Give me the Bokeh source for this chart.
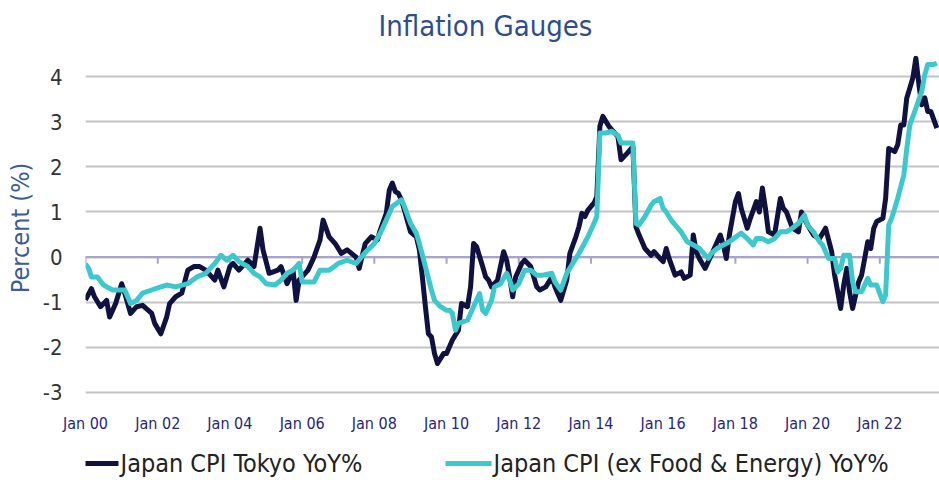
import pandas as pd
from bokeh.plotting import figure
from bokeh.layouts import column
from bokeh.models import FixedTicker, Span, Range1d
from bokeh.core.properties import value
from bokeh.embed import file_html
from bokeh.resources import INLINE

# ---------------- data ----------------
tokyo_dates = [
    "2000-01", "2000-03", "2000-04", "2000-06", "2000-08", "2000-09", "2000-11",
    "2001-01", "2001-02", "2001-04", "2001-06", "2001-08", "2001-11", "2001-12",
    "2002-02", "2002-04", "2002-05", "2002-07", "2002-09", "2002-11",
    "2003-01", "2003-03", "2003-05", "2003-08", "2003-09", "2003-11",
    "2004-01", "2004-02", "2004-04", "2004-07", "2004-09", "2004-11", "2004-12",
    "2005-02", "2005-05", "2005-06", "2005-08", "2005-10", "2005-11", "2005-12",
    "2006-03", "2006-05", "2006-07", "2006-08", "2006-10", "2006-12",
    "2007-02", "2007-04", "2007-07", "2007-08", "2007-10", "2007-12",
    "2008-02", "2008-03", "2008-05", "2008-06", "2008-07", "2008-08", "2008-09", "2008-10", "2008-11",
    "2009-01", "2009-03", "2009-04", "2009-05", "2009-06", "2009-07", "2009-08", "2009-09", "2009-10", "2009-12",
    "2010-01", "2010-03", "2010-05", "2010-06", "2010-08", "2010-09", "2010-10", "2010-11",
    "2011-01", "2011-02", "2011-03", "2011-04", "2011-06", "2011-08", "2011-09", "2011-10", "2011-11", "2011-12",
    "2012-02", "2012-03", "2012-05", "2012-07", "2012-08", "2012-10", "2012-12",
    "2013-01", "2013-03", "2013-05", "2013-06", "2013-08", "2013-09", "2013-10", "2013-11", "2013-12",
    "2014-02", "2014-03", "2014-04", "2014-05", "2014-07", "2014-08", "2014-10", "2014-11",
    "2015-01", "2015-03", "2015-04", "2015-05", "2015-07", "2015-09", "2015-10", "2015-12",
    "2016-01", "2016-02", "2016-03", "2016-05", "2016-07", "2016-08", "2016-10", "2016-11", "2016-12",
    "2017-01", "2017-03", "2017-05", "2017-06", "2017-08", "2017-09", "2017-10", "2017-11",
    "2018-01", "2018-02", "2018-03", "2018-05", "2018-06", "2018-08", "2018-09", "2018-10", "2018-11", "2018-12",
    "2019-02", "2019-04", "2019-05", "2019-06", "2019-08", "2019-10", "2019-11",
    "2020-01", "2020-03", "2020-05", "2020-07", "2020-09", "2020-10", "2020-11", "2020-12",
    "2021-01", "2021-02", "2021-03", "2021-04", "2021-06", "2021-07", "2021-09", "2021-10", "2021-11", "2021-12",
    "2022-02", "2022-03", "2022-04", "2022-06", "2022-07", "2022-08", "2022-09", "2022-10", "2022-11", "2022-12",
    "2023-01", "2023-02", "2023-03", "2023-04", "2023-05", "2023-06", "2023-08",
]
tokyo_vals = [
    -0.95, -0.70, -0.88, -1.10, -0.96, -1.33, -1.03,
    -0.59, -0.80, -1.25, -1.10, -1.07, -1.25, -1.47,
    -1.70, -1.33, -1.03, -0.88, -0.80, -0.29,
    -0.21, -0.21, -0.29, -0.51, -0.29, -0.66,
    -0.21, -0.14, -0.29, -0.07, -0.21, 0.64, 0.16,
    -0.36, -0.29, -0.21, -0.59, -0.29, -0.96, -0.51,
    -0.29, 0.00, 0.38, 0.82, 0.45, 0.30,
    0.08, 0.16, 0.00, -0.25, 0.30, 0.45,
    0.38, 0.60, 0.97, 1.49, 1.64, 1.45, 1.41, 1.27, 1.04,
    0.56, 0.45, 0.16, -0.44, -1.10, -1.70, -1.77, -2.14, -2.36, -2.14,
    -2.14, -1.84, -1.62, -1.03, -1.10, -0.66, 0.30, 0.23,
    -0.21, -0.44, -0.51, -0.66, -0.51, 0.12, -0.07, -0.44, -0.88, -0.44,
    -0.14, -0.07, -0.21, -0.66, -0.73, -0.66, -0.44,
    -0.66, -0.96, -0.51, 0.08, 0.45, 0.67, 0.97, 0.90, 1.04,
    1.20, 1.34, 2.90, 3.12, 2.90, 2.82, 2.67, 2.16,
    2.30, 2.45, 0.67, 0.50, 0.19, 0.04, 0.12, -0.03,
    -0.10, 0.19, -0.03, -0.40, -0.33, -0.47, -0.40, 0.49, 0.12,
    -0.03, -0.25, 0.04, 0.19, 0.49, 0.27, -0.03, 0.49,
    1.23, 1.41, 1.08, 0.64, 0.86, 1.23, 1.00, 1.53, 1.08, 0.56,
    0.49, 1.30, 1.08, 1.00, 0.64, 0.56, 1.00,
    0.71, 0.49, 0.41, 0.64, 0.12, -0.40, -0.77, -1.14,
    -0.62, -0.25, -0.77, -1.14, -0.55, -0.40, 0.34, 0.19, 0.64, 0.79,
    0.86, 1.30, 2.41, 2.34, 2.49, 2.93, 2.93, 3.53, 3.75, 3.97,
    4.41, 3.82, 3.38, 3.53, 3.23, 3.23, 2.86,
]

core_dates = [
    "2000-01", "2000-02", "2000-03", "2000-05", "2000-07", "2000-10",
    "2001-02", "2001-04", "2001-06", "2001-08", "2001-11",
    "2002-02", "2002-04", "2002-07", "2002-11",
    "2003-02", "2003-05", "2003-08", "2003-10", "2003-12",
    "2004-02", "2004-04", "2004-07", "2004-09", "2004-11",
    "2005-01", "2005-04", "2005-06", "2005-08", "2005-10", "2005-12",
    "2006-01", "2006-05", "2006-07", "2006-10",
    "2007-01", "2007-04", "2007-07", "2007-10",
    "2008-01", "2008-03", "2008-05", "2008-07", "2008-10", "2008-11",
    "2009-01", "2009-03", "2009-04", "2009-06", "2009-08", "2009-09", "2009-11",
    "2010-01", "2010-02", "2010-03", "2010-04", "2010-05", "2010-08", "2010-10", "2010-12",
    "2011-01", "2011-02", "2011-04", "2011-05", "2011-07", "2011-09", "2011-10", "2011-11",
    "2012-01", "2012-03", "2012-05", "2012-07", "2012-09", "2012-12",
    "2013-01", "2013-03", "2013-05", "2013-07", "2013-09", "2013-12",
    "2014-02", "2014-03", "2014-04", "2014-06", "2014-08", "2014-10", "2014-11",
    "2015-01", "2015-03", "2015-04", "2015-05", "2015-07", "2015-09", "2015-10", "2015-12",
    "2016-01", "2016-02", "2016-04", "2016-07", "2016-09", "2016-11",
    "2017-01", "2017-04", "2017-05", "2017-07", "2017-09", "2017-11",
    "2018-02", "2018-03", "2018-05", "2018-07", "2018-08", "2018-10", "2018-12",
    "2019-02", "2019-04", "2019-06", "2019-08", "2019-10", "2019-12",
    "2020-01", "2020-03", "2020-05", "2020-06", "2020-08", "2020-10", "2020-11", "2020-12",
    "2021-01", "2021-03", "2021-04", "2021-05", "2021-07", "2021-09", "2021-10", "2021-12",
    "2022-02", "2022-03", "2022-04", "2022-05", "2022-07", "2022-09", "2022-10", "2022-11",
    "2023-01", "2023-03", "2023-04", "2023-05", "2023-07", "2023-08",
]
core_vals = [
    -0.15, -0.25, -0.44, -0.44, -0.62, -0.73,
    -0.73, -1.03, -0.96, -0.80, -0.73,
    -0.66, -0.62, -0.66, -0.59,
    -0.44, -0.36, -0.14, 0.04, -0.07,
    0.04, -0.10, -0.21, -0.36, -0.44,
    -0.59, -0.62, -0.51, -0.36, -0.29, -0.14,
    -0.55, -0.55, -0.29, -0.29,
    -0.14, -0.07, -0.14, 0.10,
    0.30, 0.53, 0.82, 1.12, 1.27, 1.12,
    0.75, 0.53, 0.30, -0.21, -0.73, -0.96, -1.10,
    -1.18, -1.18, -1.25, -1.62, -1.47, -1.40, -1.10, -0.81,
    -1.18, -1.25, -0.96, -0.66, -0.59, -0.36, -0.51, -0.73,
    -0.59, -0.29, -0.29, -0.40, -0.40, -0.36,
    -0.55, -0.73, -0.36, -0.14, 0.08, 0.45,
    0.75, 0.90, 2.75, 2.75, 2.79, 2.70, 2.53,
    2.53, 2.53, 0.75, 0.71, 0.90, 1.15, 1.23, 1.30,
    1.08, 1.00, 0.79, 0.56, 0.34, 0.27,
    0.19, -0.03, 0.08, 0.19, 0.27, 0.34,
    0.49, 0.53, 0.41, 0.27, 0.41, 0.41, 0.34,
    0.41, 0.56, 0.56, 0.64, 0.75, 0.93,
    0.71, 0.56, 0.34, 0.27, -0.03, -0.03, -0.33, -0.25,
    0.04, 0.04, -0.55, -0.77, -0.77, -0.47, -0.62, -0.62,
    -0.99, -0.84, 0.71, 0.86, 1.30, 1.82, 2.41, 2.93,
    3.30, 3.67, 4.04, 4.27, 4.27, 4.30,
]

chart_title = "Inflation Gauges"
series_names = ["Japan CPI Tokyo YoY%", "Japan CPI (ex Food & Energy) YoY%"]
y_ticks = [-3, -2, -1, 0, 1, 2, 3, 4]
y_tick_labels = ["-3", "-2", "-1", "0", "1", "2", "3", "4"]
x_tick_dates = ["2000-01", "2002-01", "2004-01", "2006-01", "2008-01", "2010-01",
                "2012-01", "2014-01", "2016-01", "2018-01", "2020-01", "2022-01"]
x_tick_labels = ["Jan 00", "Jan 02", "Jan 04", "Jan 06", "Jan 08", "Jan 10",
                 "Jan 12", "Jan 14", "Jan 16", "Jan 18", "Jan 20", "Jan 22"]
x_start, x_end = "2000-01-01", "2023-08-28"
y_start, y_end = -3.18, 4.47


def ms(s):
    return pd.Timestamp(s).value / 1e6


NARROW = "DejaVu Sans Condensed"
C_TOKYO = "#11113F"
C_CORE = "#3DC8CB"
W = 939
FRAME_LEFT = 85          # left border of the plotting area (px)
HDR_H, MAIN_H, LG_H = 46, 394, 40

tokyo_x = [ms(d) for d in tokyo_dates]
core_x = [ms(d) for d in core_dates]
tick_x = [ms(d) for d in x_tick_dates]


def strip(height):
    """A blank strip whose frame is aligned with the chart frame; x in page pixels."""
    f = figure(width=W, height=height, output_backend="svg", toolbar_location=None,
               x_range=Range1d(FRAME_LEFT, W), y_range=Range1d(0, height),
               x_axis_location=None, y_axis_location=None,
               min_border_left=0, min_border_right=0, min_border_top=0, min_border_bottom=0)
    f.outline_line_color = None
    f.xgrid.visible = False
    f.ygrid.visible = False
    return f


# ---------------- header (title) ----------------
hdr = strip(HDR_H)
hdr.text(x=[485], y=[HDR_H - 25], text=[chart_title], text_font=value(NARROW),
         text_font_size="29px", text_color="#2E4D8F",
         text_align="center", text_baseline="middle")

# ---------------- main chart ----------------
p = figure(width=W, height=MAIN_H, output_backend="svg", toolbar_location=None,
           x_range=Range1d(ms(x_start), ms(x_end)), y_range=Range1d(y_start, y_end),
           min_border_left=FRAME_LEFT, min_border_right=0, min_border_top=9,
           min_border_bottom=40)
p.outline_line_color = None
p.background_fill_color = "white"
p.border_fill_color = "white"

p.xgrid.visible = False
p.ygrid.ticker = FixedTicker(ticks=y_ticks)
p.ygrid.grid_line_color = "#C3C3C3"
p.ygrid.grid_line_width = 2

p.yaxis.ticker = FixedTicker(ticks=y_ticks)
p.yaxis.major_label_overrides = {t: lab for t, lab in zip(y_ticks, y_tick_labels)}
p.yaxis.axis_line_color = None
p.yaxis.major_tick_line_color = None
p.yaxis.minor_tick_line_color = None
p.yaxis.major_tick_out = 0
p.yaxis.major_tick_in = 0
p.yaxis.minor_tick_out = 0
p.yaxis.major_label_text_font = NARROW
p.yaxis.major_label_text_font_size = "22px"
p.yaxis.major_label_text_color = "#333333"
p.yaxis.major_label_standoff = 23
p.yaxis.axis_label = "Percent (%)"
p.yaxis.axis_label_text_font = NARROW
p.yaxis.axis_label_text_font_size = "25px"
p.yaxis.axis_label_text_font_style = "normal"
p.yaxis.axis_label_text_color = "#3B5B9B"
p.yaxis.axis_label_standoff = 5

p.xaxis.ticker = FixedTicker(ticks=tick_x)
p.xaxis.major_label_overrides = {t: lab for t, lab in zip(tick_x, x_tick_labels)}
p.xaxis.axis_line_color = None
p.xaxis.major_tick_line_color = None
p.xaxis.minor_tick_line_color = None
p.xaxis.major_label_text_font = NARROW
p.xaxis.major_label_text_font_size = "16px"
p.xaxis.major_label_text_color = "#26267E"
p.xaxis.major_label_standoff = 7

zero = Span(location=0, dimension="width", line_color="#A8A3C8", line_width=2, level="underlay")
p.add_layout(zero)
p.segment(x0=tick_x, y0=[0] * len(tick_x), x1=tick_x, y1=[-0.15] * len(tick_x),
          line_color="#A8A3C8", line_width=2)

p.line(tokyo_x, tokyo_vals, line_color=C_TOKYO, line_width=5, line_join="round")
p.line(core_x, core_vals, line_color=C_CORE, line_width=5, line_join="round")

# ---------------- legend strip ----------------
lg = strip(LG_H)
key_x0 = [72, 445]
key_len = 46
key_y = 17
lg.segment(x0=key_x0, x1=[k + key_len for k in key_x0], y0=[key_y] * 2, y1=[key_y] * 2,
           line_color=[C_TOKYO, C_CORE], line_width=5)
lg.text(x=[k + key_len + 2 for k in key_x0], y=[key_y] * 2, text=series_names,
        text_font=value(NARROW), text_font_size="25px", text_color="#222222",
        text_baseline="middle", text_align="left")

layout = column(hdr, p, lg, spacing=0)
open("out.html", "w").write(file_html(layout, INLINE))
